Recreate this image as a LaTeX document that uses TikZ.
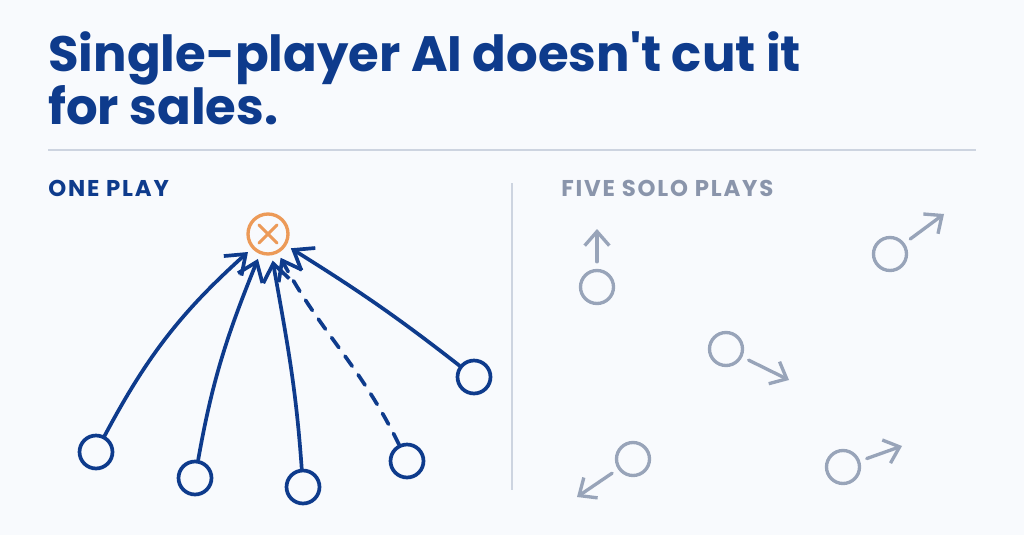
\documentclass[tikz,border=0pt]{standalone}
\usepackage{fontspec}
\setmainfont{Poppins}[Ligatures=TeXOff]
\usetikzlibrary{arrows.meta,positioning}
\definecolor{playblue}{HTML}{0E3B8C}
\definecolor{hitorange}{HTML}{EC9A58}
\definecolor{sologrey}{HTML}{98A4B9}
\definecolor{labelgrey}{HTML}{8A95AB}
\definecolor{rulegrey}{HTML}{CDD4E0}
\definecolor{paper}{HTML}{F8FAFD}
\tikzset{
  player/.style={circle, draw=playblue, line width=2.1pt, minimum size=0.66cm, inner sep=0pt},
  soloplayer/.style={circle, draw=sologrey, line width=1.9pt, minimum size=0.66cm, inner sep=0pt},
  pass/.style={draw=playblue, line width=2.1pt, line cap=round,
    -{Straight Barb[length=10pt,width=15pt]}, shorten >=3pt},
  solopass/.style={draw=sologrey, line width=1.9pt, line cap=round,
    -{Straight Barb[length=8pt,width=14pt]}, shorten <=4pt},
  heading/.style={anchor=base west, inner sep=0pt, font=\bfseries\fontsize{13}{14}\selectfont\addfontfeatures{LetterSpace=8}},
  titleline/.style={anchor=base west, inner sep=0pt, text=playblue, font=\bfseries\fontsize{28.3}{30}\selectfont}
}
\begin{document}
\begin{tikzpicture}[x=0.02cm, y=0.02cm]
  \fill[paper] (0,0) rectangle (1024,535);
  \useasboundingbox (0,0) rectangle (1024,535);
  \node (title) [titleline] at (48,463) {Single-player AI doesn't cut it};
  \node (title2) [titleline] at (48,410) {for sales.};
  \coordinate (ruleL) at (48,385);
  \coordinate (ruleR) at (976,385);
  \draw[rulegrey, line width=1.3pt] (ruleL) -- (ruleR);
  \coordinate (divT) at (512,352);
  \coordinate (divB) at (512,45);
  \draw[rulegrey, line width=1.3pt] (divT) -- (divB);
  \node (one) [heading, text=playblue] at (48,338) {ONE PLAY};
  \node (five) [heading, text=labelgrey] at (561,338) {FIVE SOLO PLAYS};
  % one play
  \node (target) [circle, draw=hitorange, line width=1.9pt, minimum size=0.8cm, inner sep=0pt] at (268,301) {};
  \draw[hitorange, line width=1.7pt, line cap=round] (target.center) ++(-9,-9) -- ++(18,18)
    (target.center) ++(-9,9) -- ++(18,-18);
  \node (p1) [player] at (96,83) {};
  \node (p2) [player] at (195,57) {};
  \node (p3) [player] at (303,48) {};
  \node (p4) [player] at (407,74) {};
  \node (p5) [player] at (474,158) {};
  \draw[pass] (p1) to[out=62, in=-138] (target);
  \draw[pass] (p2) to[out=80, in=-112] (target);
  \draw[pass] (p3) to[out=94, in=-80] (target);
  \draw[pass, dash pattern=on 7pt off 6pt] (p4) to[out=116, in=-62] (target);
  \draw[pass] (p5) to[out=142, in=-32] (target);
  % five solo plays
  \node (g1) [soloplayer] at (597,248) {};
  \node (g2) [soloplayer] at (890,281) {};
  \node (g3) [soloplayer] at (726,186) {};
  \node (g4) [soloplayer] at (633,76) {};
  \node (g5) [soloplayer] at (843,68) {};
  \coordinate (g1end) at (597,306);
  \coordinate (g2end) at (944,321);
  \coordinate (g3end) at (789,155);
  \coordinate (g4end) at (577,38);
  \coordinate (g5end) at (902,89);
  \draw[solopass] (g1) -- (g1end);
  \draw[solopass] (g2) -- (g2end);
  \draw[solopass] (g3) -- (g3end);
  \draw[solopass] (g4) -- (g4end);
  \draw[solopass] (g5) -- (g5end);
\end{tikzpicture}
\end{document}
